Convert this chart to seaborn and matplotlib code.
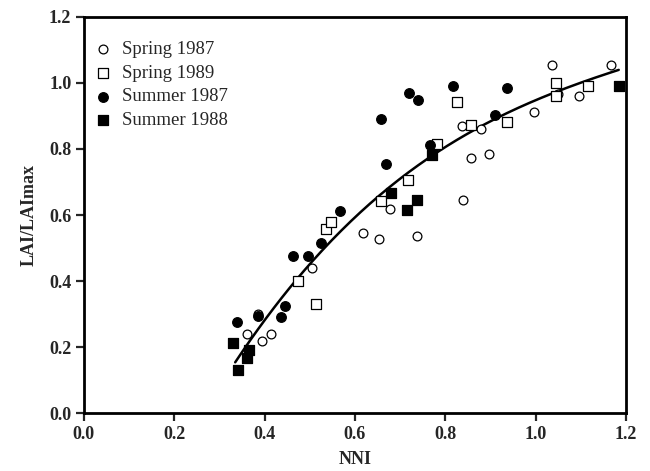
import numpy as np
import pandas as pd
import matplotlib
matplotlib.use("Agg")
import matplotlib.pyplot as plt
import seaborn as sns

# ---- data ----
spring87_x = [0.362, 0.385, 0.395, 0.414, 0.505, 0.617, 0.653, 0.678, 0.738, 0.839,
              0.838, 0.879, 0.857, 0.897, 0.997, 1.037, 1.049, 1.097, 1.167]
spring87_y = [0.239, 0.300, 0.218, 0.239, 0.438, 0.547, 0.527, 0.617, 0.536, 0.645,
              0.871, 0.861, 0.773, 0.785, 0.913, 1.054, 0.968, 0.961, 1.055]

spring89_x = [0.475, 0.514, 0.537, 0.546, 0.657, 0.717, 0.781, 0.827, 0.858, 0.936,
              1.046, 1.046, 1.115]
spring89_y = [0.400, 0.330, 0.558, 0.578, 0.643, 0.706, 0.815, 0.942, 0.873, 0.882,
              1.001, 0.961, 0.992]

summer87_x = [0.340, 0.385, 0.436, 0.445, 0.464, 0.496, 0.525, 0.566, 0.657, 0.668,
              0.720, 0.739, 0.766, 0.818, 0.910, 0.937]
summer87_y = [0.277, 0.295, 0.290, 0.324, 0.476, 0.476, 0.516, 0.613, 0.890, 0.754,
              0.969, 0.949, 0.813, 0.991, 0.903, 0.985]

summer88_x = [0.331, 0.342, 0.362, 0.366, 0.681, 0.716, 0.738, 0.770, 1.184]
summer88_y = [0.211, 0.129, 0.168, 0.191, 0.668, 0.615, 0.645, 0.782, 0.990]

# fitted curve, read at several points along its length
curve_x = [0.335, 0.474, 0.644, 0.655, 0.744, 0.795, 0.873, 1.039, 1.184]
curve_y = [0.155, 0.405, 0.654, 0.661, 0.754, 0.797, 0.863, 0.972, 1.039]

series_names = ["Spring 1987", "Spring 1989", "Summer 1987", "Summer 1988"]
x_ticks = [0.0, 0.2, 0.4, 0.6, 0.8, 1.0, 1.2]
y_ticks = [0.0, 0.2, 0.4, 0.6, 0.8, 1.0, 1.2]

# ---- figure ----
sns.set_style("ticks")
plt.rcParams["font.family"] = ["Liberation Serif", "DejaVu Serif"]

fig = plt.figure(figsize=(6.5, 4.71), dpi=100)
ax = fig.add_axes([0.129, 0.123, 0.834, 0.841])

styles = [
    (spring87_x, spring87_y, "o", "white", 40),
    (spring89_x, spring89_y, "s", "white", 48),
    (summer87_x, summer87_y, "o", "black", 48),
    (summer88_x, summer88_y, "s", "black", 52),
]
for name, (xs, ys, mk, fc, sz) in zip(series_names, styles):
    df = pd.DataFrame({"NNI": xs, "LAI": ys})
    sns.scatterplot(data=df, x="NNI", y="LAI", marker=mk, s=sz, facecolor=fc,
                    edgecolor="black", linewidth=0.9, ax=ax, label=name, zorder=3)

# smooth representation of the drawn regression curve
cdf = pd.DataFrame({"x": curve_x, "y": curve_y})
coef = np.polyfit(cdf["x"], cdf["y"], 3)
xs_line = np.linspace(min(curve_x), max(curve_x), 200)
sns.lineplot(x=xs_line, y=np.polyval(coef, xs_line), color="black", lw=1.8, ax=ax,
             zorder=2)

ax.set_xlim(0, 1.2)
ax.set_ylim(0, 1.2)
ax.set_xticks(x_ticks)
ax.set_yticks(y_ticks)
ax.set_xticklabels([f"{v:.1f}" for v in x_ticks], fontsize=13, fontweight="bold")
ax.set_yticklabels([f"{v:.1f}" for v in y_ticks], fontsize=13, fontweight="bold")
ax.set_xlabel("NNI", fontsize=13, fontweight="bold", labelpad=6)
ax.set_ylabel("LAI/LAImax", fontsize=13, fontweight="bold", labelpad=8)
for sp in ax.spines.values():
    sp.set_visible(True)
    sp.set_linewidth(2)
    sp.set_color("black")
ax.tick_params(axis="both", direction="out", length=6, width=1.6, pad=3)

leg = ax.legend(loc="upper left", frameon=False, fontsize=13.5, handletextpad=0.6,
                labelspacing=0.35, borderaxespad=0.5, handlelength=0.8,
                bbox_to_anchor=(-0.01, 0.982))

fig.savefig("out.png", dpi=100)
